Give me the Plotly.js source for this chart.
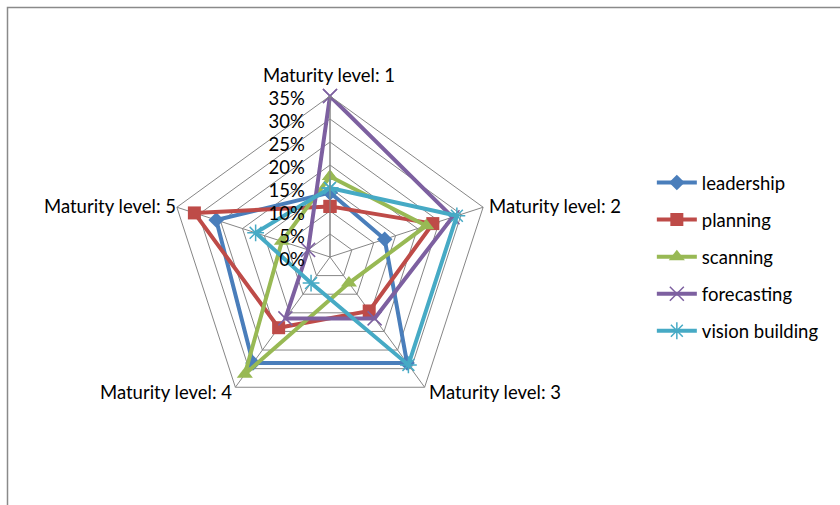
<!DOCTYPE html>
<html>
<head>
<meta charset="utf-8">
<script src="https://cdn.plot.ly/plotly-3.0.1.min.js"></script>
<style>
  html, body { margin: 0; padding: 0; background: #fff; }
  #chart { width: 840px; height: 505px; }
</style>
</head>
<body>
<div id="chart"></div>
<script>
// Maturity levels around the radar
const categories = ["Maturity level: 1", "Maturity level: 2", "Maturity level: 3", "Maturity level: 4", "Maturity level: 5"];

// Share of responses per maturity level, for each capability
const leadership     = [0.14, 0.125, 0.285, 0.285, 0.26];
const planning       = [0.11, 0.235, 0.145, 0.19, 0.31];
const scanning       = [0.175, 0.22, 0.07, 0.315, 0.11];
const forecasting    = [0.35, 0.28, 0.165, 0.165, 0.05];
const visionBuilding = [0.15, 0.29, 0.29, 0.07, 0.17];

const seriesNames = ["leadership", "planning", "scanning", "forecasting", "vision building"];
const seriesValues = [leadership, planning, scanning, forecasting, visionBuilding];

const colors  = ["#4A7EBB", "#BE4B48", "#98B954", "#7D60A0", "#46AAC5"];
const markers = [
  {symbol: "diamond", size: 12},
  {symbol: "square", size: 13},
  {symbol: "triangle-up", size: 14},
  {symbol: "x-thin-open", size: 14, line: {width: 1.5}},
  {symbol: "asterisk-open", size: 14, line: {width: 1.5}}
];

// close each polygon by returning to the first level
const closed = arr => arr.concat([arr[0]]);

const traces = seriesNames.map((name, i) => {
  const m = Object.assign({color: colors[i]}, markers[i]);
  if (m.line) m.line = Object.assign({color: colors[i]}, m.line);
  return {
    type: "scatterpolar",
    mode: "lines+markers",
    name: name,
    legendgroup: name,
    r: closed(seriesValues[i]),
    theta: closed(categories),
    line: {color: colors[i], width: 4},
    marker: m,
    cliponaxis: false
  };
});

const W = 840, H = 505;
const cx = 330, cy = 257, R = 161;
const FS = 18.5;

// category labels sit just outside each corner of the outer pentagon
const labelPlacement = [
  {xanchor: "center", xshift: -1, yshift: 21},
  {xanchor: "left",   xshift: 4,  yshift: 1},
  {xanchor: "left",   xshift: 2,  yshift: -5},
  {xanchor: "right",  xshift: -1, yshift: -5},
  {xanchor: "right",  xshift: 1,  yshift: 1}
];
const annotations = categories.map((txt, k) => {
  const a = (90 - 72 * k) * Math.PI / 180;
  const px = cx + R * Math.cos(a), py = cy - R * Math.sin(a);
  return Object.assign({
    xref: "paper", yref: "paper",
    x: px / W, y: 1 - py / H,
    yanchor: "middle",
    text: txt, showarrow: false,
    font: {size: FS, color: "#000"}
  }, labelPlacement[k]);
});

const layout = {
  width: W, height: H,
  margin: {l: 0, r: 0, t: 0, b: 0},
  paper_bgcolor: "#ffffff",
  font: {family: "Lato, 'Open Sans', sans-serif", size: FS, color: "#000"},
  showlegend: true,
  legend: {
    x: 0.776, xanchor: "left",
    y: 1 - cy / H, yanchor: "middle",
    font: {size: FS, color: "#000"},
    itemwidth: 40,
    tracegroupgap: 10,
    traceorder: "grouped",
    bgcolor: "rgba(0,0,0,0)"
  },
  polar: {
    domain: {x: [(cx - R) / W, (cx + R) / W], y: [(H - cy - R) / H, (H - cy + R) / H]},
    gridshape: "linear",
    bgcolor: "rgba(0,0,0,0)",
    angularaxis: {
      type: "category",
      rotation: 90,
      direction: "clockwise",
      showline: true,
      linecolor: "#868686",
      linewidth: 1,
      gridcolor: "#868686",
      ticks: "",
      showticklabels: false
    },
    radialaxis: {
      range: [0, 0.35],
      dtick: 0.05,
      tickformat: ".0%",
      angle: 90,
      side: "counterclockwise",
      showline: true,
      linecolor: "#868686",
      gridcolor: "#868686",
      ticks: "outside",
      ticklen: 8,
      tickcolor: "rgba(0,0,0,0)",
      tickfont: {size: FS, color: "#000"}
    }
  },
  annotations: annotations,
  shapes: [{
    type: "rect", xref: "paper", yref: "paper",
    x0: 7.5 / W, x1: 1.2, y0: -0.2, y1: 1 - 7.5 / H,
    line: {color: "#8a8a8a", width: 1.5},
    fillcolor: "rgba(0,0,0,0)"
  }]
};

Plotly.newPlot("chart", traces, layout, {displayModeBar: false, staticPlot: true});
</script>
</body>
</html>
